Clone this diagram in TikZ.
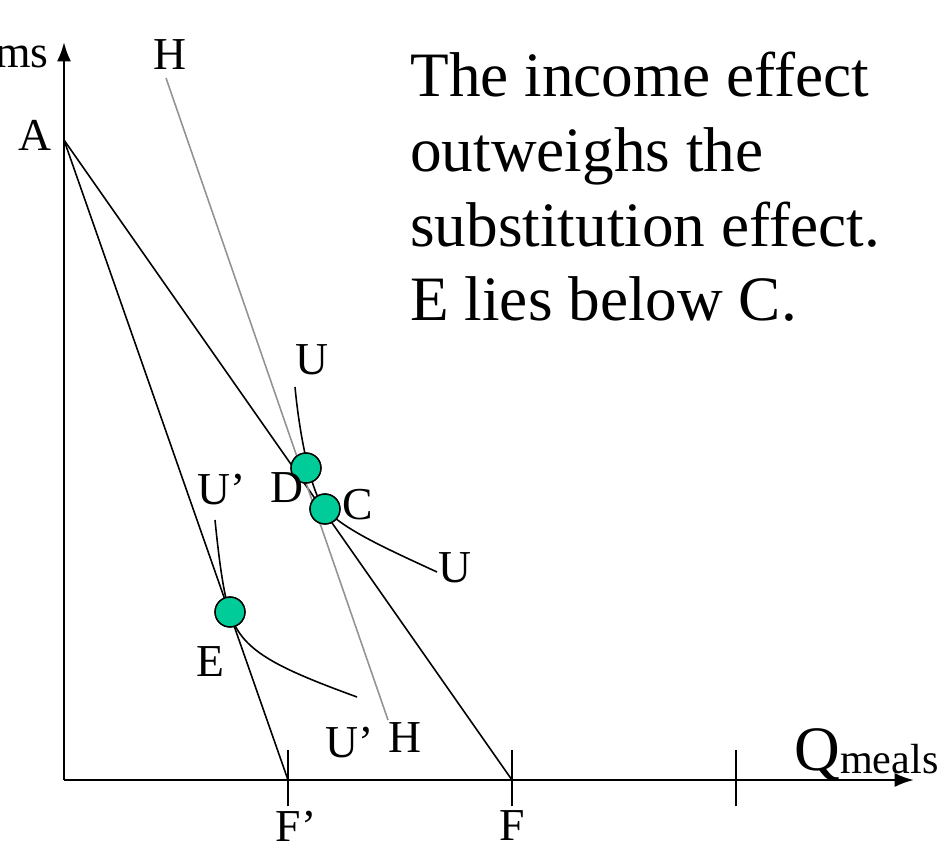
\documentclass[tikz,border=0pt]{standalone}
\usepackage{fontspec}
\setmainfont{Liberation Serif}
\usepackage{tikz}
\usetikzlibrary{arrows.meta, positioning}
\definecolor{dotgreen}{RGB}{0,204,153}

\tikzset{
    lbl/.style={font=\fontsize{26}{30}\selectfont, inner sep=0pt},
    pt/.style={circle, draw=black, line width=0.8pt, fill=dotgreen, minimum size=17, inner sep=0pt},
    budget/.style={line width=0.9pt},
    indiff/.style={line width=0.9pt},
}

\begin{document}
\begin{tikzpicture}[x=0.02cm, y=-0.02cm, >={Latex[length=11pt,width=8pt]}]
    \useasboundingbox (0,0) rectangle (946,848);

    % 1. Truc toa do
    \coordinate (O) at (64,780);
    \coordinate (ytop) at (64,42);
    \coordinate (xend) at (914,780);
    \draw[->, line width=1.4pt] (O) -- (ytop);
    \draw[->, line width=1.4pt] (O) -- (xend);
    \node[lbl, anchor=east] (ylab) at (49,57) {ms};
    \node[anchor=base west, inner sep=0pt] (xlab) at (794,770)
        {\fontsize{36}{40}\selectfont Q\raisebox{-2pt}{\fontsize{24}{28}\selectfont meals}};

    % 2. Vach chia tren truc x
    \coordinate (Fp) at (288,780);
    \coordinate (F) at (512,780);
    \coordinate (T3) at (736,780);
    \foreach \p in {Fp, F, T3}
        \draw[line width=0.9pt] ([yshift=-15]\p) -- ([yshift=17]\p);
    \node[lbl] (Fplab) at (296,826) {F’};
    \node[lbl] (Flab) at (512,826) {F};

    % 3. Duong ngan sach
    \coordinate (A) at (64,140);
    \node[lbl] (Alab) at (35,135) {A};
    \draw[budget] (A) -- (F);
    \draw[budget] (A) -- (Fp);

    % 4. Duong HH (xam)
    \coordinate (H1) at (166,78);
    \coordinate (H2) at (388,720);
    \draw[gray!85, line width=0.9pt] (H1) -- (H2);
    \node[lbl] (Htop) at (170,55) {H};
    \node[lbl] (Hbot) at (405,738) {H};

    % 5. Duong bang quan U va U'
    \coordinate (Ua) at (295,387);
    \coordinate (Ub) at (437,572);
    \coordinate (Va) at (215,520);
    \coordinate (Vb) at (357,697);
    \node[pt] (D) at (306,468) {};
    \node[pt] (C) at (325,509) {};
    \node[pt] (E) at (230,612) {};
    \draw[indiff] (Ua) .. controls (300,440) and (312,495) .. (C.center)
        .. controls (345,530) and (385,548) .. (Ub);
    \draw[indiff] (Va) .. controls (220,570) and (225,600) .. (E.center)
        .. controls (240,650) and (275,667) .. (Vb);
    \node[pt] at (D) {};
    \node[pt] at (C) {};
    \node[pt] at (E) {};

    % 6. Nhan cac diem
    \node[lbl] (Utop) at (312,360) {U};
    \node[lbl] (Ubot) at (455,568) {U};
    \node[lbl] (Vtop) at (222,490) {U’};
    \node[lbl] (Vbot) at (350,743) {U’};
    \node[lbl] (Dlab) at (287,488) {D};
    \node[lbl] (Clab) at (358,505) {C};
    \node[lbl] (Elab) at (210,662) {E};

    % 7. Chu thich
    \node[anchor=north west, inner sep=0pt, align=left,
          font=\fontsize{36}{42.5}\selectfont] (note) at (410,52)
        {The income effect\\outweighs the\\substitution effect.\\E lies below C.};
\end{tikzpicture}
\end{document}
